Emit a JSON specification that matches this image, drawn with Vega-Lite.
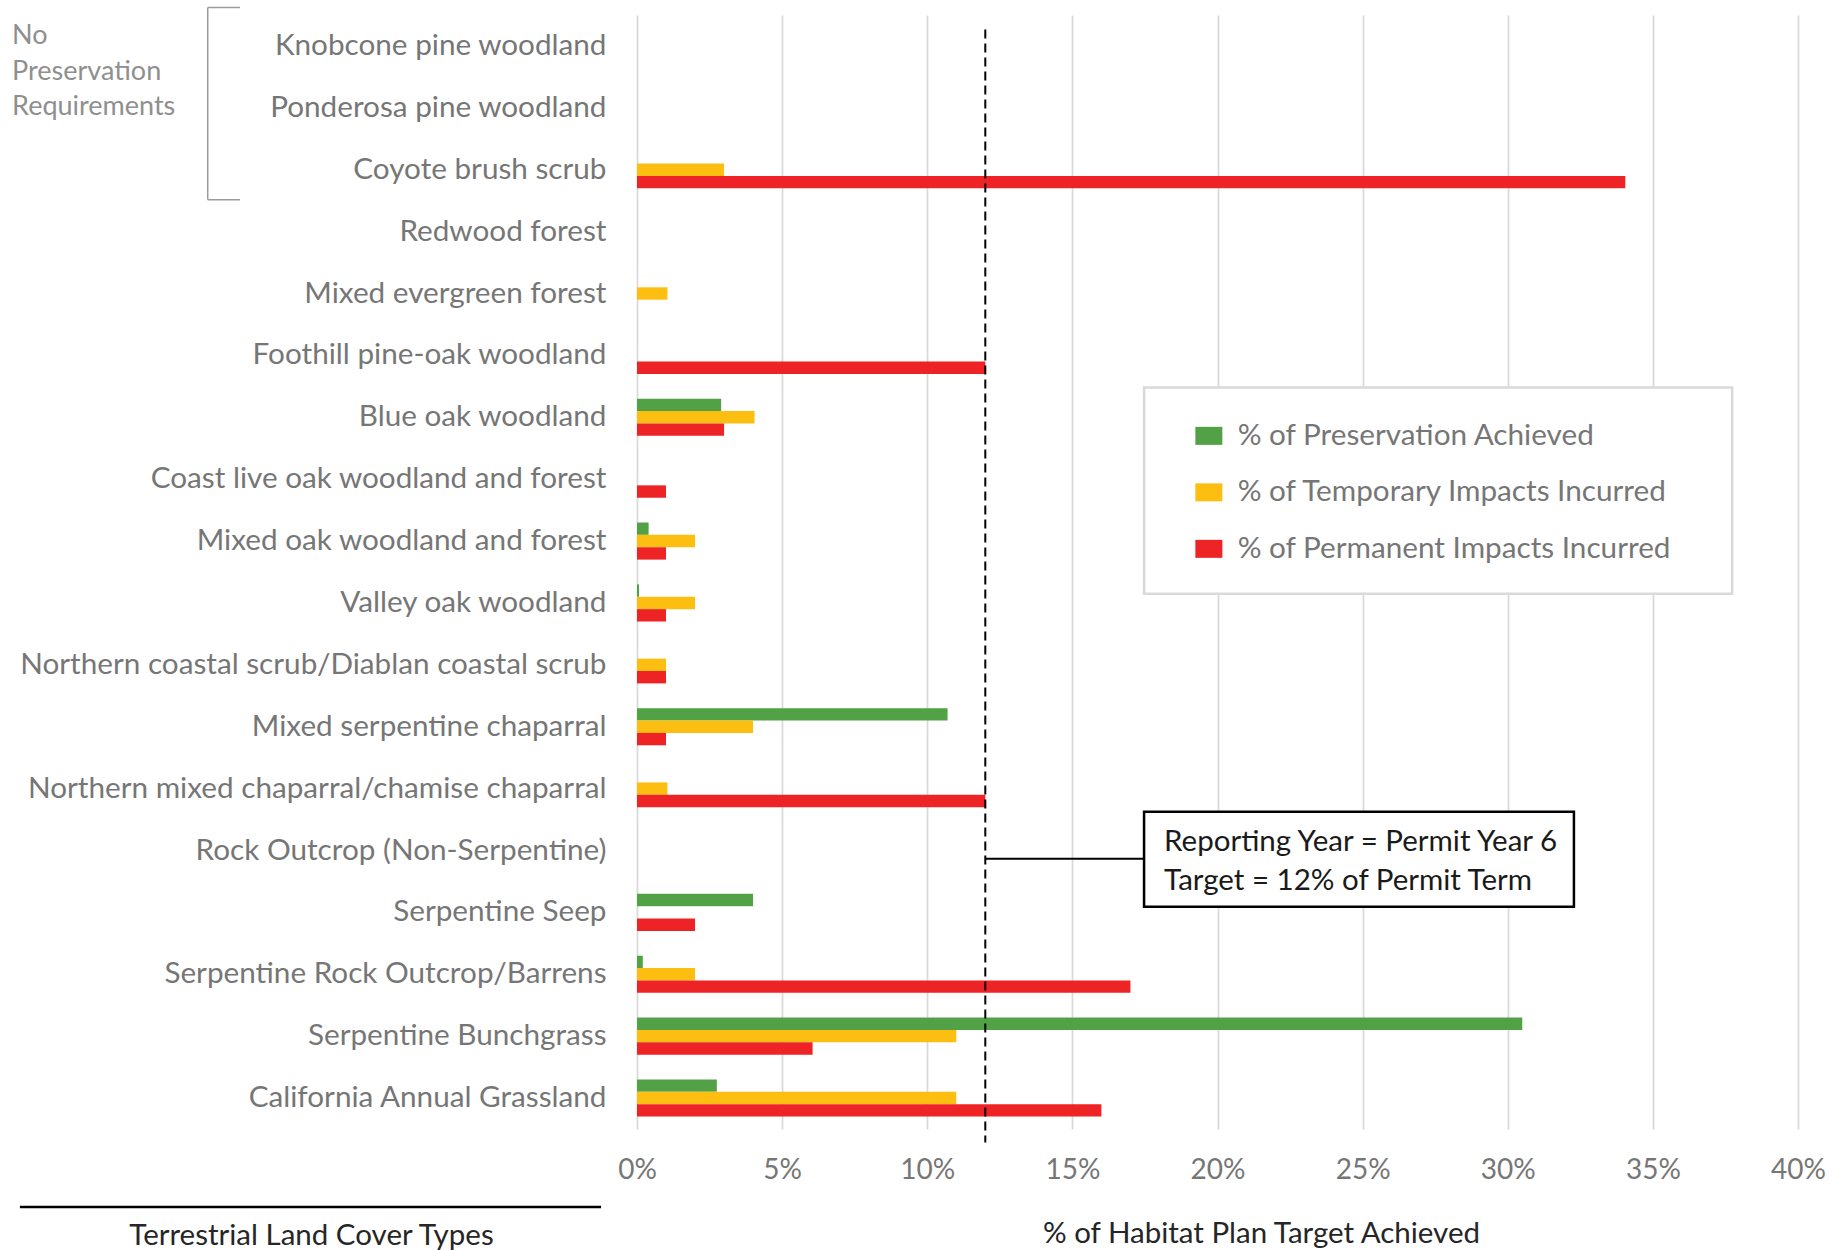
{
  "$schema": "https://vega.github.io/schema/vega-lite/v6.json",
  "width": 1161,
  "height": 1114,
  "autosize": {"type": "none"},
  "padding": {"left": 637, "top": 15, "right": 47, "bottom": 121},
  "config": {"view": {"stroke": null}, "font": "Lato"},
  "datasets": {
    "bars": [
      {"cat": "Coyote brush scrub", "series": "% of Temporary Impacts Incurred", "value": 3.0},
      {"cat": "Coyote brush scrub", "series": "% of Permanent Impacts Incurred", "value": 34.05},
      {"cat": "Mixed evergreen forest", "series": "% of Temporary Impacts Incurred", "value": 1.05},
      {"cat": "Foothill pine-oak woodland", "series": "% of Permanent Impacts Incurred", "value": 12.0},
      {"cat": "Blue oak woodland", "series": "% of Preservation Achieved", "value": 2.9},
      {"cat": "Blue oak woodland", "series": "% of Temporary Impacts Incurred", "value": 4.05},
      {"cat": "Blue oak woodland", "series": "% of Permanent Impacts Incurred", "value": 3.0},
      {"cat": "Coast live oak woodland and forest", "series": "% of Permanent Impacts Incurred", "value": 1.0},
      {"cat": "Mixed oak woodland and forest", "series": "% of Preservation Achieved", "value": 0.4},
      {"cat": "Mixed oak woodland and forest", "series": "% of Temporary Impacts Incurred", "value": 2.0},
      {"cat": "Mixed oak woodland and forest", "series": "% of Permanent Impacts Incurred", "value": 1.0},
      {"cat": "Valley oak woodland", "series": "% of Preservation Achieved", "value": 0.07},
      {"cat": "Valley oak woodland", "series": "% of Temporary Impacts Incurred", "value": 2.0},
      {"cat": "Valley oak woodland", "series": "% of Permanent Impacts Incurred", "value": 1.0},
      {"cat": "Northern coastal scrub/Diablan coastal scrub", "series": "% of Temporary Impacts Incurred", "value": 1.0},
      {"cat": "Northern coastal scrub/Diablan coastal scrub", "series": "% of Permanent Impacts Incurred", "value": 1.0},
      {"cat": "Mixed serpentine chaparral", "series": "% of Preservation Achieved", "value": 10.7},
      {"cat": "Mixed serpentine chaparral", "series": "% of Temporary Impacts Incurred", "value": 4.0},
      {"cat": "Mixed serpentine chaparral", "series": "% of Permanent Impacts Incurred", "value": 1.0},
      {"cat": "Northern mixed chaparral/chamise chaparral", "series": "% of Temporary Impacts Incurred", "value": 1.05},
      {"cat": "Northern mixed chaparral/chamise chaparral", "series": "% of Permanent Impacts Incurred", "value": 12.0},
      {"cat": "Serpentine Seep", "series": "% of Preservation Achieved", "value": 4.0},
      {"cat": "Serpentine Seep", "series": "% of Permanent Impacts Incurred", "value": 2.0},
      {"cat": "Serpentine Rock Outcrop/Barrens", "series": "% of Preservation Achieved", "value": 0.2},
      {"cat": "Serpentine Rock Outcrop/Barrens", "series": "% of Temporary Impacts Incurred", "value": 2.0},
      {"cat": "Serpentine Rock Outcrop/Barrens", "series": "% of Permanent Impacts Incurred", "value": 17.0},
      {"cat": "Serpentine Bunchgrass", "series": "% of Preservation Achieved", "value": 30.5},
      {"cat": "Serpentine Bunchgrass", "series": "% of Temporary Impacts Incurred", "value": 11.0},
      {"cat": "Serpentine Bunchgrass", "series": "% of Permanent Impacts Incurred", "value": 6.05},
      {"cat": "California Annual Grassland", "series": "% of Preservation Achieved", "value": 2.75},
      {"cat": "California Annual Grassland", "series": "% of Temporary Impacts Incurred", "value": 11.0},
      {"cat": "California Annual Grassland", "series": "% of Permanent Impacts Incurred", "value": 16.0}
    ],
    "hrules": [
      {"name": "connector", "x": 12, "x2": 17.47, "row": 13.635},
      {"name": "underline", "x": -21.26, "x2": -1.24, "row": 19.26}
    ],
    "bracket_v": [
      {"x": -14.79, "row": -0.12, "row2": 2.984}
    ],
    "bracket_h": [
      {"x": -14.79, "x2": -13.68, "row": -0.12},
      {"x": -14.79, "x2": -13.68, "row": 2.984}
    ],
    "target": [
      {"x": 12, "row": 0.236, "row2": 18.22}
    ],
    "boxes": [
      {"name": "legendbox", "x": 17.47, "x2": 37.73, "row": 6.02, "row2": 9.35},
      {"name": "notebox", "x": 17.47, "x2": 32.28, "row": 12.875, "row2": 14.41}
    ],
    "notes": [
      {"text": "Reporting Year = Permit Year 6", "x": 18.16, "row": 13.506},
      {"text": "Target = 12% of Permit Term", "x": 18.16, "row": 14.136}
    ],
    "nopres": [
      {"text": "No", "x": -21.53, "row": 0.462},
      {"text": "Preservation", "x": -21.53, "row": 1.044},
      {"text": "Requirements", "x": -21.53, "row": 1.61}
    ]
  },
  "layer": [
    {
      "data": {"name": "bars"},
      "mark": {"type": "bar"},
      "encoding": {
        "y": {
          "field": "cat",
          "type": "nominal",
          "sort": null,
          "scale": {
            "domain": [
              "Knobcone pine woodland",
              "Ponderosa pine woodland",
              "Coyote brush scrub",
              "Redwood forest",
              "Mixed evergreen forest",
              "Foothill pine-oak woodland",
              "Blue oak woodland",
              "Coast live oak woodland and forest",
              "Mixed oak woodland and forest",
              "Valley oak woodland",
              "Northern coastal scrub/Diablan coastal scrub",
              "Mixed serpentine chaparral",
              "Northern mixed chaparral/chamise chaparral",
              "Rock Outcrop (Non-Serpentine)",
              "Serpentine Seep",
              "Serpentine Rock Outcrop/Barrens",
              "Serpentine Bunchgrass",
              "California Annual Grassland"
            ],
            "paddingInner": 0,
            "paddingOuter": 0
          },
          "axis": {
            "title": "Terrestrial Land Cover Types",
            "titleAngle": 0,
            "titleAlign": "center",
            "titleBaseline": "middle",
            "titleX": -326,
            "titleY": 1220,
            "titleFontSize": 29.5,
            "titleFontWeight": "normal",
            "titleColor": "#262626",
            "domain": false,
            "ticks": false,
            "grid": false,
            "labelPadding": 31,
            "labelFontSize": 29.7,
            "labelColor": "#767676",
            "labelLimit": 800
          }
        },
        "yOffset": {
          "field": "series",
          "type": "nominal",
          "scale": {
            "domain": ["% of Preservation Achieved", "% of Temporary Impacts Incurred", "% of Permanent Impacts Incurred"],
            "paddingInner": 0,
            "paddingOuter": 1.08
          }
        },
        "x": {
          "field": "value",
          "type": "quantitative",
          "scale": {"domain": [0, 40], "nice": false, "zero": true},
          "axis": {
            "values": [0, 5, 10, 15, 20, 25, 30, 35, 40],
            "labelExpr": "datum.value + '%'",
            "labelFlush": false,
            "grid": true,
            "gridColor": "#d9d9d9",
            "gridWidth": 1.75,
            "domain": false,
            "ticks": false,
            "labelFontSize": 28,
            "labelColor": "#767676",
            "labelBaseline": "middle",
            "labelPadding": 41,
            "title": "% of Habitat Plan Target Achieved",
            "titleX": 624,
            "titleY": 104,
            "titleAlign": "center",
            "titleBaseline": "middle",
            "titleFontSize": 29.5,
            "titleFontWeight": "normal",
            "titleColor": "#262626"
          }
        },
        "color": {
          "field": "series",
          "type": "nominal",
          "scale": {
            "domain": ["% of Preservation Achieved", "% of Temporary Impacts Incurred", "% of Permanent Impacts Incurred"],
            "range": ["#53A146", "#FCBF11", "#EE2325"]
          },
          "legend": {
            "title": null,
            "orient": "none",
            "legendX": 557,
            "legendY": 406,
            "padding": 0,
            "symbolType": "M-1.5,-1L1.5,-1L1.5,1L-1.5,1Z",
            "symbolSize": 324,
            "symbolStrokeWidth": 0,
            "labelFontSize": 29.7,
            "labelColor": "#767676",
            "labelOffset": 14,
            "rowPadding": 25.5,
            "labelLimit": 600,
            "zindex": 5
          }
        }
      }
    },
    {
      "layer": [
        {
          "data": {"name": "boxes"},
          "transform": [{"filter": "datum.name == 'legendbox'"}],
          "mark": {"type": "rect", "fill": "white", "stroke": "#d9d9d9", "strokeWidth": 2.5},
          "encoding": {
            "x": {"field": "x", "type": "quantitative"},
            "x2": {"field": "x2"},
            "y": {"field": "row", "type": "quantitative", "scale": {"domain": [0, 18], "nice": false, "zero": false, "reverse": true}, "axis": null},
            "y2": {"field": "row2"}
          }
        },
        {
          "data": {"name": "target"},
          "mark": {"type": "rule", "color": "black", "strokeWidth": 2, "strokeDash": [9, 5]},
          "encoding": {
            "x": {"field": "x", "type": "quantitative"},
            "y": {"field": "row", "type": "quantitative"},
            "y2": {"field": "row2"}
          }
        },
        {
          "data": {"name": "hrules"},
          "mark": {"type": "rule", "color": "black"},
          "encoding": {
            "x": {"field": "x", "type": "quantitative"},
            "x2": {"field": "x2"},
            "y": {"field": "row", "type": "quantitative"},
            "strokeWidth": {"condition": {"test": "datum.name == 'underline'", "value": 2.7}, "value": 2}
          }
        },
        {
          "data": {"name": "boxes"},
          "transform": [{"filter": "datum.name == 'notebox'"}],
          "mark": {"type": "rect", "fill": "white", "stroke": "black", "strokeWidth": 2.5},
          "encoding": {
            "x": {"field": "x", "type": "quantitative"},
            "x2": {"field": "x2"},
            "y": {"field": "row", "type": "quantitative"},
            "y2": {"field": "row2"}
          }
        },
        {
          "data": {"name": "notes"},
          "mark": {"type": "text", "align": "left", "baseline": "alphabetic", "fontSize": 29.5, "color": "#1a1a1a"},
          "encoding": {
            "x": {"field": "x", "type": "quantitative"},
            "y": {"field": "row", "type": "quantitative"},
            "text": {"field": "text"}
          }
        },
        {
          "data": {"name": "nopres"},
          "mark": {"type": "text", "align": "left", "baseline": "alphabetic", "fontSize": 27, "color": "#8f8f8f"},
          "encoding": {
            "x": {"field": "x", "type": "quantitative"},
            "y": {"field": "row", "type": "quantitative"},
            "text": {"field": "text"}
          }
        },
        {
          "data": {"name": "bracket_v"},
          "mark": {"type": "rule", "color": "#9a9a9a", "strokeWidth": 1.5},
          "encoding": {
            "x": {"field": "x", "type": "quantitative"},
            "y": {"field": "row", "type": "quantitative"},
            "y2": {"field": "row2"}
          }
        },
        {
          "data": {"name": "bracket_h"},
          "mark": {"type": "rule", "color": "#9a9a9a", "strokeWidth": 1.5},
          "encoding": {
            "x": {"field": "x", "type": "quantitative"},
            "x2": {"field": "x2"},
            "y": {"field": "row", "type": "quantitative"}
          }
        }
      ]
    }
  ],
  "resolve": {"scale": {"y": "independent"}, "axis": {"y": "independent"}}
}
